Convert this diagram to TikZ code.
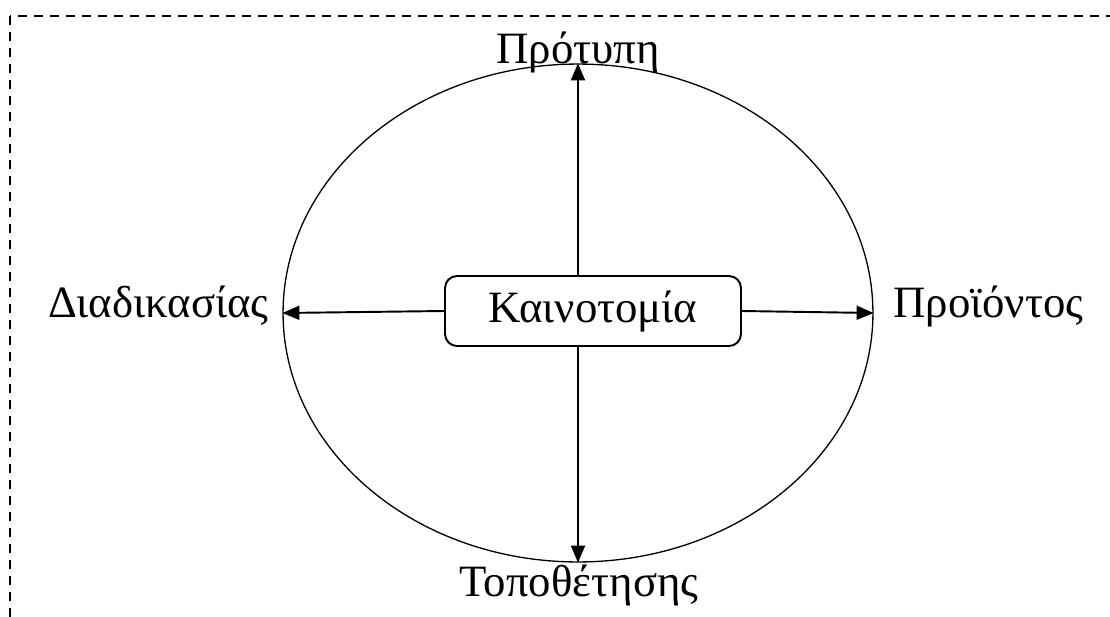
\documentclass[tikz,border=0pt]{standalone}
\usepackage{fontspec}
\setmainfont{Liberation Serif}
\usetikzlibrary{arrows.meta,shapes.geometric,calc}
\tikzset{
  freccia/.style={-{Triangle[length=0.34cm,width=0.28cm]},line width=1.1pt},
  etichetta/.style={inner sep=0pt,font=\fontsize{25.5}{30}\selectfont},
}
\begin{document}
\begin{tikzpicture}[x=0.02cm,y=-0.02cm]
        \useasboundingbox (0,0) rectangle (1110,616);
        \clip (0,0) rectangle (1110,616);
        %cornice
        \draw[line width=0.85pt,dash pattern=on 0.18cm off 0.14cm] (10,16) rectangle (1130,640);
        \node[draw,ellipse,line width=0.75pt,minimum width=11.8cm,minimum height=9.96cm,inner sep=0pt] (cerchio) at (578,313) {};
        \node[draw,rounded corners=0.24cm,line width=1.1pt,minimum width=5.92cm,minimum height=1.4cm,font=\fontsize{25.5}{30}\selectfont] (innov) at (593,311) {Καινοτομία};
        %etichette
        \node[etichetta,anchor=base] (modelli) at (578,63) {Πρότυπη};
        \node[etichetta,anchor=base] (posiz) at (579,596) {Τοποθέτησης};
        \node[etichetta,anchor=base east] (proc) at (269,317) {Διαδικασίας};
        \node[etichetta,anchor=base west] (prod) at (893,317) {Προϊόντος};
        %frecce
        \draw[freccia] (cerchio.north |- innov.north) -- (cerchio.north);
        \draw[freccia] (cerchio.south |- innov.south) -- (cerchio.south);
        \draw[freccia] (innov.west) -- (cerchio.west);
        \draw[freccia] (innov.east) -- (cerchio.east);
\end{tikzpicture}
\end{document}
